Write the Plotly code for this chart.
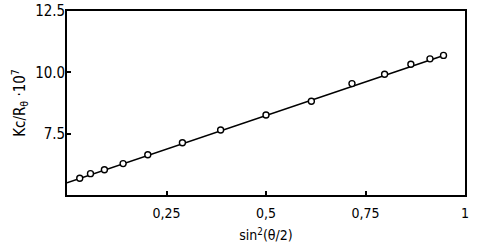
import plotly.graph_objects as go

# data
sin2_half_theta = [0.032, 0.059, 0.094, 0.141, 0.203, 0.290, 0.386, 0.500,
                   0.614, 0.716, 0.798, 0.864, 0.912, 0.946]
kc_over_r = [5.68, 5.87, 6.03, 6.28, 6.64, 7.13, 7.65, 8.26,
             8.82, 9.54, 9.92, 10.33, 10.55, 10.69]
fit_x = [0.0, 0.95]
fit_y = [5.50, 10.71]

x_tickvals = [0.25, 0.5, 0.75, 1.0]
x_ticktext = ["0,25", "0,5", "0,75", "1"]
y_tickvals = [7.5, 10.0, 12.5]
y_ticktext = ["7.5", "10.0", "12.5"]

FONT = "Liberation Sans Narrow, DejaVu Sans Condensed, Arial Narrow, sans-serif"

fig = go.Figure()
fig.add_trace(go.Scatter(x=fit_x, y=fit_y, mode="lines",
                         line=dict(color="black", width=1.6),
                         showlegend=False, hoverinfo="skip"))
fig.add_trace(go.Scatter(x=sin2_half_theta, y=kc_over_r, mode="markers",
                         marker=dict(symbol="circle", size=6, color="white",
                                     line=dict(color="black", width=1.4)),
                         showlegend=False, cliponaxis=False))

fig.update_layout(
    template="none",
    width=479, height=244,
    margin=dict(l=67, r=14, t=11, b=49, autoexpand=False),
    paper_bgcolor="white", plot_bgcolor="white",
    font=dict(family=FONT, color="black"),
    xaxis=dict(range=[0, 1], tickvals=x_tickvals, ticktext=x_ticktext,
               ticks="inside", ticklen=4, tickwidth=1.6, tickcolor="black",
               showgrid=False, zeroline=False, showline=True, linecolor="black",
               linewidth=1.6, mirror=True, automargin=False, ticklabelstandoff=4,
               tickfont=dict(size=14, family=FONT),
               title=dict(text="sin<sup>2</sup>(θ/2)", font=dict(size=14, family=FONT),
                          standoff=11)),
    yaxis=dict(range=[5, 12.5], tickvals=y_tickvals, ticktext=y_ticktext,
               ticks="inside", ticklen=4, tickwidth=1.6, tickcolor="black",
               showgrid=False, zeroline=False, showline=True, linecolor="black",
               linewidth=1.6, mirror=True, automargin=False, ticklabelstandoff=-3,
               tickfont=dict(size=15, family=FONT),
               title=dict(text="Kc/R<sub>θ</sub> ·10<sup>7</sup>",
                          font=dict(size=15, family=FONT), standoff=6)),
)

fig.write_html("out.html", config={"displayModeBar": False},
               post_script="document.body.style.margin='0';document.body.style.overflow='hidden';")
